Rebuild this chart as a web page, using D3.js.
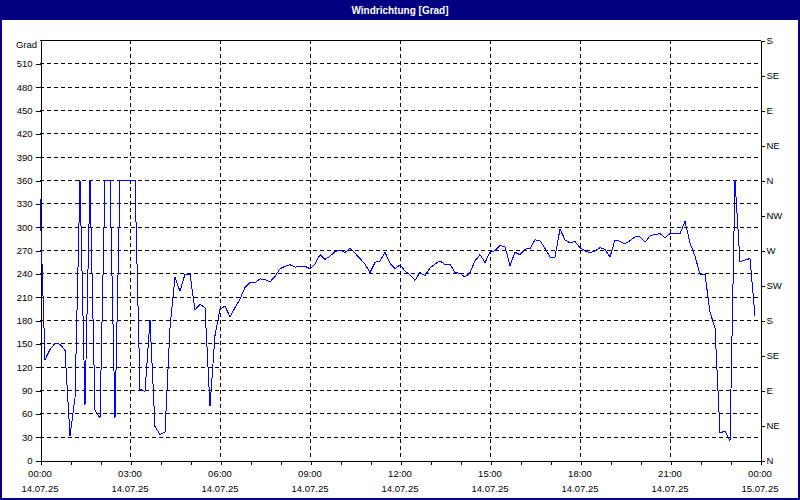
<!DOCTYPE html>
<html><head><meta charset="utf-8">
<script src="https://cdn.jsdelivr.net/npm/d3@7"></script>
<style>body{margin:0;background:#fff}svg{display:block}text{font-family:"Liberation Sans",Arial,sans-serif}</style>
</head><body><svg id="c" width="800" height="500"></svg>
<script>
const title = "Windrichtung [Grad]";
const yUnit = "Grad";
const startTime = new Date(2025, 6, 14, 0, 0);
const endTime = new Date(2025, 6, 15, 0, 0);
const stepMinutes = 10;
const values = [336,129,142,150,149,141,31,80,360,71,
360,64,54,360,360,54,360,360,360,360,
91,88,180,43,33,36,170,235,217,239,
239,193,200,196,69,160,194,198,184,196,
207,222,228,228,233,232,229,236,246,249,
251,248,249,249,246,252,264,258,262,268,
270,267,272,266,259,252,241,254,256,267,
253,246,251,243,238,231,241,237,247,252,
256,251,252,241,240,235,241,256,264,254,
267,269,276,274,250,267,264,271,272,283,
282,272,261,261,297,283,279,281,273,269,
266,269,273,271,261,283,281,278,282,287,
287,280,288,290,291,286,291,291,291,307,
279,262,239,239,190,170,35,37,24,360,
255,257,259,185];
const yTicks = [0,30,60,90,120,150,180,210,240,270,300,330,360,390,420,450,480,510];
const compassTicks = [0,45,90,135,180,225,270,315,360,405,450,495,540];
const compassLabels = ["N","NE","E","SE","S","SW","W","NW","N","NE","E","SE","S"];
const timeLabels = ["00:00","03:00","06:00","09:00","12:00","15:00","18:00","21:00","00:00"];
const dateLabels = ["14.07.25","14.07.25","14.07.25","14.07.25","14.07.25","14.07.25","14.07.25","14.07.25","15.07.25"];

const data = values.map((v,i)=>({t:new Date(startTime.getTime()+i*stepMinutes*60000), v}));
const svg = d3.select("#c");
const L=40,R=760,T=40,B=460;
const x = d3.scaleTime().domain([startTime,endTime]).range([L,R]);
const y = d3.scaleLinear().domain([0,540]).range([B,T]);

// background & window frame
svg.append("rect").attr("x",0).attr("y",0).attr("width",800).attr("height",500).attr("fill","#ffffff");
svg.append("rect").attr("x",1).attr("y",1).attr("width",798).attr("height",498).attr("fill","none").attr("stroke","#000080").attr("stroke-width",2);
svg.append("rect").attr("x",0).attr("y",0).attr("width",800).attr("height",20).attr("fill","#000080");
svg.append("text").attr("x",400).attr("y",13.5).attr("text-anchor","middle").attr("fill","#fff")
  .attr("font-size","10px").attr("font-weight","bold").text(title);

const g = svg.append("g").attr("shape-rendering","crispEdges");
// grid
const threeHours = d3.timeHour.every(3).range(startTime,endTime).filter(d=>d>startTime);
g.selectAll(".vg").data(threeHours).join("line").attr("x1",d=>Math.round(x(d))+0.5).attr("x2",d=>Math.round(x(d))+0.5)
  .attr("y1",T).attr("y2",B).attr("stroke","#000").attr("stroke-dasharray","4,3");
g.selectAll(".hg").data(yTicks.filter(d=>d>0)).join("line").attr("y1",d=>Math.round(y(d))+0.5).attr("y2",d=>Math.round(y(d))+0.5)
  .attr("x1",L).attr("x2",R).attr("stroke","#000").attr("stroke-dasharray","4,3");

// axes
const ax = svg.append("g").attr("shape-rendering","crispEdges");
const left = ax.append("g").attr("transform",`translate(${L+0.5},0.5)`)
  .call(d3.axisLeft(y).tickValues(yTicks).tickSize(5).tickSizeOuter(0).tickPadding(3).tickFormat(d3.format("d")));
const right = ax.append("g").attr("transform",`translate(${R+0.5},0.5)`)
  .call(d3.axisRight(y).tickValues(compassTicks).tickSize(4).tickSizeOuter(0).tickPadding(2).tickFormat((d,i)=>compassLabels[i]));
const bottom = ax.append("g").attr("transform",`translate(0.5,${B+0.5})`)
  .call(d3.axisBottom(x).ticks(d3.timeHour.every(1)).tickSize(4).tickSizeOuter(0).tickFormat(""));
ax.append("line").attr("x1",L).attr("x2",R+1).attr("y1",T+0.5).attr("y2",T+0.5).attr("stroke","#000");
[left,right,bottom].forEach(a=>{
  a.selectAll("path,line").attr("stroke","#000");
  a.selectAll("text").attr("font-size","9.5px").attr("fill","#000").attr("font-family",'"Liberation Sans",Arial,sans-serif');
});
svg.append("text").attr("x",L-3).attr("y",y(540)+8).attr("text-anchor","end").attr("font-size","9.5px").text(yUnit);

const labelTimes = d3.timeHour.every(3).range(startTime, new Date(endTime.getTime()+1));
svg.selectAll(".tl").data(labelTimes).join("text").attr("x",d=>x(d)).attr("y",477).attr("text-anchor","middle").attr("font-size","9.5px").text((d,i)=>timeLabels[i]);
svg.selectAll(".dl").data(labelTimes).join("text").attr("x",d=>x(d)).attr("y",492).attr("text-anchor","middle").attr("font-size","9.5px").text((d,i)=>dateLabels[i]);

// series line
svg.append("path").datum(data).attr("fill","none").attr("stroke","#0000ff").attr("stroke-width",1)
  .attr("shape-rendering","crispEdges")
  .attr("d",d3.line().x(d=>x(d.t)).y(d=>y(d.v)));
</script></body></html>
